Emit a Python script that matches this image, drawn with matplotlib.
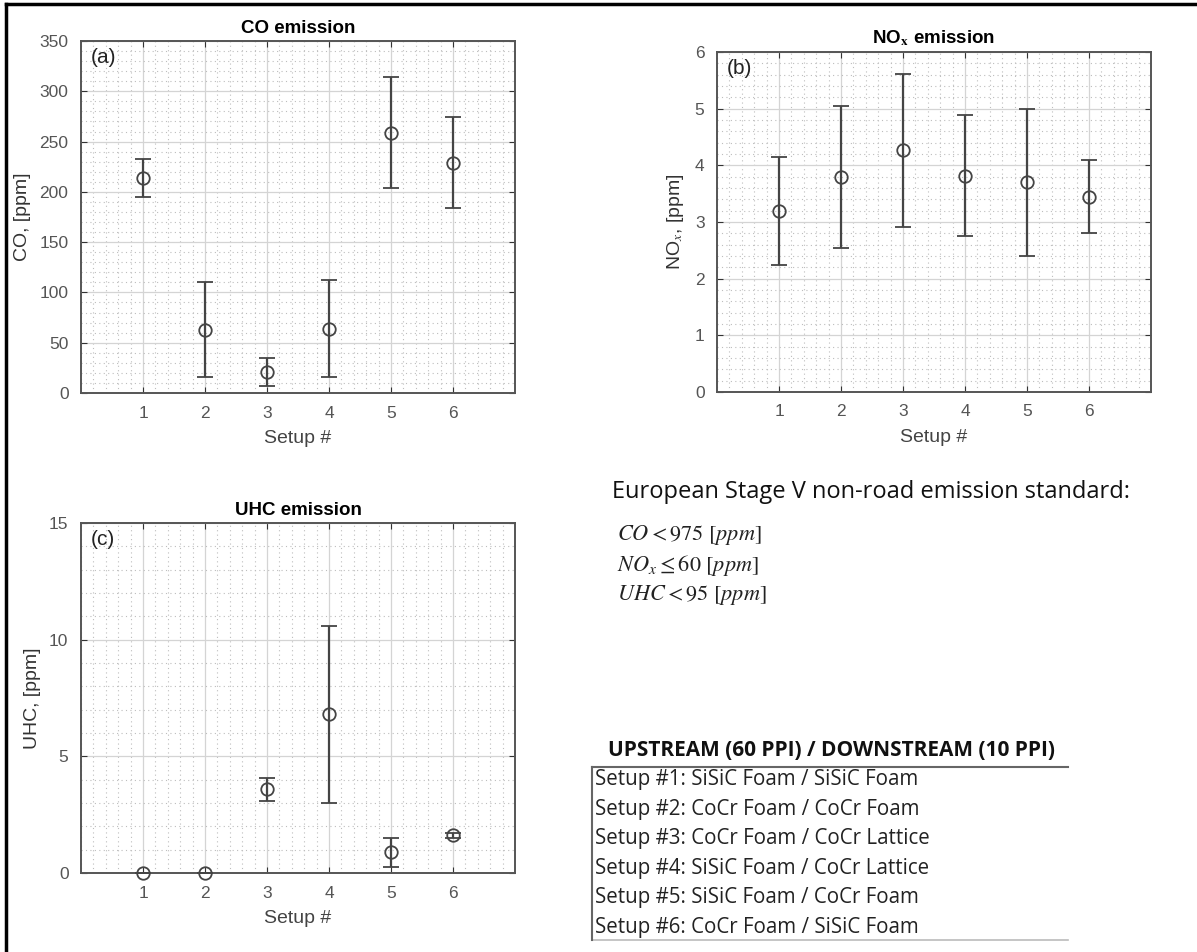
import matplotlib
matplotlib.use('Agg')
import matplotlib.pyplot as plt
from matplotlib.ticker import MultipleLocator, AutoMinorLocator
from matplotlib.lines import Line2D

plt.rcParams['font.family'] = ['Liberation Sans', 'DejaVu Sans']
plt.rcParams['mathtext.fontset'] = 'stix'

# 数据
setups = [1, 2, 3, 4, 5, 6]

co_mean = [214, 63, 21, 64, 259, 229]
co_err = [19, 47, 14, 48, 55, 45]

nox_mean = [3.20, 3.80, 4.27, 3.82, 3.70, 3.45]
nox_err = [0.95, 1.25, 1.35, 1.07, 1.30, 0.65]

uhc_mean = [0.0, 0.0, 3.58, 6.80, 0.88, 1.62]
uhc_err = [0.0, 0.0, 0.50, 3.80, 0.62, 0.10]

standard_title = 'European Stage V non-road emission standard:'
standard_lines = [r'$CO < 975\ [ppm]$', r'$NO_x \leq 60\ [ppm]$', r'$UHC < 95\ [ppm]$']

table_title = 'UPSTREAM (60 PPI) / DOWNSTREAM (10 PPI)'
table_rows = [
    'Setup #1: SiSiC Foam / SiSiC Foam',
    'Setup #2: CoCr Foam / CoCr Foam',
    'Setup #3: CoCr Foam / CoCr Lattice',
    'Setup #4: SiSiC Foam / CoCr Lattice',
    'Setup #5: SiSiC Foam / CoCr Foam',
    'Setup #6: CoCr Foam / SiSiC Foam',
]

W, H = 1197, 952
fig = plt.figure(figsize=(W / 100, H / 100), dpi=100)


def px_axes(left, top, right, bottom):
    return fig.add_axes([left / W, 1 - bottom / H, (right - left) / W, (bottom - top) / H])


def style_panel(ax, ymax, ystep, title, ylabel, tag):
    ax.set_xlim(0, 7)
    ax.set_ylim(0, ymax)
    ax.set_xticks(setups)
    ax.yaxis.set_major_locator(MultipleLocator(ystep))
    ax.xaxis.set_minor_locator(AutoMinorLocator(5))
    ax.yaxis.set_minor_locator(AutoMinorLocator(5))
    ax.grid(True, which='major', color='#d4d4d4', linewidth=0.9)
    ax.grid(True, which='minor', color='#bdbdbd', linestyle=(0, (1, 3)), linewidth=0.8)
    ax.set_axisbelow(True)
    ax.tick_params(which='both', direction='in', top=True, right=True,
                   labelsize=12.5, labelcolor='#555555', color='#333333')
    ax.tick_params(which='major', length=4, pad=9)
    ax.tick_params(which='minor', length=0)
    for sp in ax.spines.values():
        sp.set_color('#555555')
        sp.set_linewidth(1.4)
    ax.set_title(title, fontsize=13.5, fontweight='bold', pad=6)
    ax.set_xlabel('Setup #', fontsize=14, color='#444444', labelpad=7)
    ax.set_ylabel(ylabel, fontsize=14, color='#333333', labelpad=6)
    ax.text(0.022, 0.98, tag, transform=ax.transAxes, ha='left', va='top',
            fontsize=15, color='#222222')


def draw_points(ax, mean, err):
    ax.errorbar(setups, mean, yerr=err, fmt='o', markersize=9,
                markerfacecolor='none', markeredgecolor='#444444', markeredgewidth=1.3,
                ecolor='#444444', elinewidth=1.6, capsize=6, capthick=1.6,
                clip_on=False, zorder=5)


ax_a = px_axes(81, 41, 515, 393)
style_panel(ax_a, 350, 50, 'CO emission', 'CO, [ppm]', '(a)')
draw_points(ax_a, co_mean, co_err)

ax_b = px_axes(717, 52, 1151, 392)
style_panel(ax_b, 6, 1, r'NO$_\mathbf{x}$ emission', r'NO$_x$, [ppm]', '(b)')
draw_points(ax_b, nox_mean, nox_err)

ax_c = px_axes(81, 523, 515, 873)
style_panel(ax_c, 15, 5, 'UHC emission', 'UHC, [ppm]', '(c)')
draw_points(ax_c, uhc_mean, uhc_err)

# 排放标准文本
fig.text(612 / W, 1 - 492 / H, standard_title, fontsize=17, family='Open Sans',
         ha='left', va='center', color='#111111')
for i, line in enumerate(standard_lines):
    fig.text(617 / W, 1 - (535 + i * 30) / H, line, fontsize=16,
             ha='left', va='center', color='#222222')

# 配置表
fig.text(832 / W, 1 - 750 / H, table_title, fontsize=15, family='Open Sans',
         fontweight='bold', ha='center', va='center', color='#111111')
for i, row in enumerate(table_rows):
    fig.text(595 / W, 1 - (780 + i * 29.4) / H, row, fontsize=14.8, family='Open Sans',
             ha='left', va='center', color='#222222')

frame = dict(color='#666666', linewidth=1.5)
fig.add_artist(Line2D([592 / W, 1068 / W], [1 - 767 / H, 1 - 767 / H], **frame))
fig.add_artist(Line2D([592 / W, 1068 / W], [1 - 940 / H, 1 - 940 / H], color='#bbbbbb', linewidth=1.2))
fig.add_artist(Line2D([592 / W, 592 / W], [1 - 767 / H, 1 - 940 / H], **frame))

# 外框
fig.add_artist(Line2D([6 / W, 1.0], [1 - 4 / H, 1 - 4 / H], color='black', linewidth=2.5))
fig.add_artist(Line2D([6 / W, 6 / W], [1 - 4 / H, 0.0], color='black', linewidth=2.5))

fig.savefig('out.png', dpi=100)
